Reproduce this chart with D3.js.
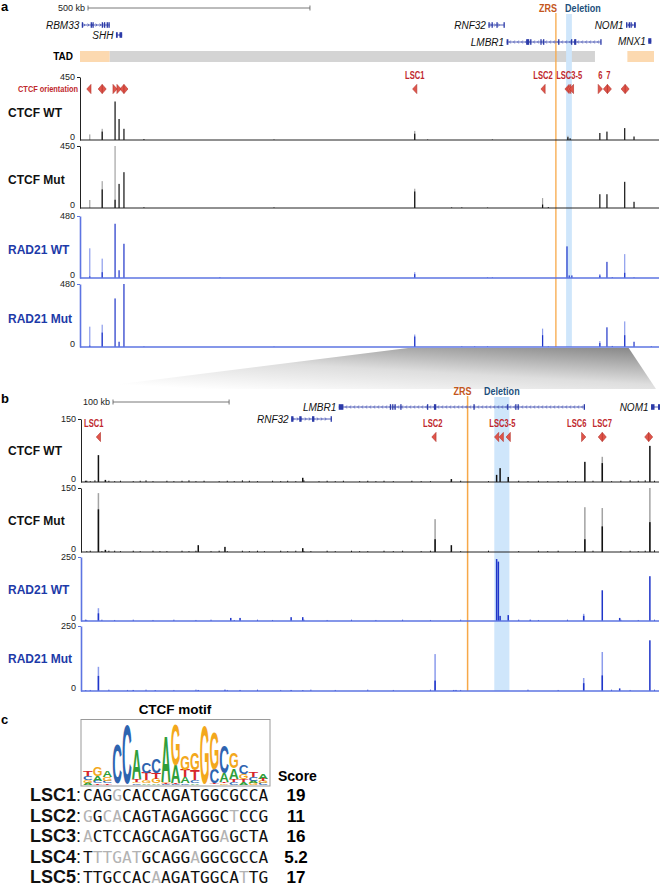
<!DOCTYPE html>
<html><head><meta charset="utf-8">
<script src="https://cdn.jsdelivr.net/npm/d3@7/dist/d3.min.js"></script>
<style>
body{margin:0;background:#fff}
svg{display:block}
svg text{font-family:"Liberation Sans",Arial,Helvetica,sans-serif}
svg text.mono{font-family:"DejaVu Sans Mono",monospace}
</style>
</head><body>
<svg id="fig" width="660" height="887"></svg>
<script>
// ================= DATA =================
const domainA = [0, 1302];          // kb, panel a window
const domainB = [739, 1236];        // kb, panel b window (zoom)
const scaleBarA = 500, scaleBarB = 100;  // kb
const zrsKb = 1072;
const deletionKb = [1095, 1108];
const tadStart = [0, 67, 1233];
const tadEnd   = [67, 1160, 1293];
const tadType  = ["flank", "tad", "flank"];

const geneNames  = ["RBM33", "SHH", "RNF32", "LMBR1", "NOM1", "MNX1"];
const geneStart  = [4, 81, 920, 961, 1230, 1280];
const geneEnd    = [67, 95, 955, 1173, 1252, 1287];
const geneStrand = ["+", "-", "+", "-", "+", "-"];
const geneExons  = [
  [[4,7],[24,26],[28,30],[49,51],[54,56],[60,62],[64,67]],
  [[81,85],[89,95]],
  [[920,922],[927,929],[938,940],[954,955]],
  [[961,965],[1005,1006],[1007,1008],[1009,1010],[1014,1015],[1037,1038],[1043,1045],[1077,1078],[1106,1107],[1113,1114],[1115,1116],[1172,1173]],
  [[1230,1233],[1236,1238],[1240,1242],[1248,1252]],
  [[1280,1287]]
];

// CTCF sites: position (kb), orientation (L = reverse, R = forward, B = both)
const siteKb  = [20, 50, 79, 88, 99, 754, 1043, 1097, 1101, 1107, 1172, 1188, 1228];
const siteDir = ["L","B","R","R","B","L","L","L","L","L","R","B","B"];
const siteLabelsA   = ["LSC1", "LSC2", "LSC3-5", "6", "7"];
const siteLabelKbA  = [754, 1043, 1102, 1172, 1190];
const siteLabelsB   = ["LSC1", "LSC2", "LSC3-5", "LSC6", "LSC7"];
const siteLabelKbB  = [750, 1042, 1102, 1166, 1188];

// ChIP-seq peaks: [kb, max, mean]
const ctcfWtA = [[22,40,0],[50,80,60],[79,275,275],[88,150,150],[99,80,80],[144,6,6],[437,3,3],[754,65,45],[783,3,3],[929,3,3],[1099,30,20],[1104,12,12],[1171,50,50],[1187,60,60],[1227,85,85],[1248,25,25]];
const ctcfMutA = [[22,58,0],[50,195,135],[79,470,60],[88,175,175],[99,260,260],[144,5,5],[437,4,4],[754,140,120],[837,4,4],[860,4,4],[918,3,3],[1042,72,25],[1055,6,6],[1171,100,100],[1187,100,100],[1227,190,190],[1248,45,45]];
const rad21WtA = [[22,230,12],[50,150,45],[79,420,420],[88,60,60],[99,265,265],[315,5,5],[754,45,30],[918,4,4],[929,4,4],[1097,245,245],[1102,20,20],[1108,20,20],[1171,30,20],[1187,125,125],[1199,6,6],[1227,185,40],[1248,5,5]];
const rad21MutA = [[22,155,10],[50,170,110],[79,370,370],[88,40,40],[99,490,490],[144,4,4],[437,3,3],[754,95,80],[860,4,4],[889,4,4],[918,4,4],[1042,140,90],[1055,4,4],[1171,45,30],[1187,150,150],[1199,8,8],[1227,195,90],[1248,40,40],[1287,5,5]];

const ctcfWtB = [[743,3,3],[754,64,64],[760,5,5],[930,10,10],[1058,7,7],[1097,17,17],[1100,33,33],[1107,12,12],[1173,48,48],[1188,60,45],[1229,86,86]];
const ctcfMutB = [[754,138,100],[760,5,5],[840,16,16],[863,12,12],[930,9,9],[1044,77,30],[1058,16,16],[1173,105,30],[1188,103,60],[1229,160,70]];
const rad21WtB = [[743,5,5],[754,50,30],[868,12,12],[876,12,12],[920,15,15],[930,15,15],[1097,242,242],[1098.5,232,232],[1100,20,20],[1107,23,23],[1126,5,5],[1172,28,20],[1188,120,120],[1203,12,12],[1229,175,175]];
const rad21MutB = [[743,3,3],[754,93,58],[784,4,4],[803,3,3],[840,4,4],[863,5,5],[876,4,4],[920,4,4],[930,3,3],[1044,142,40],[1060,4,4],[1062,4,4],[1172,50,30],[1188,150,60],[1203,10,10],[1229,195,195]];

// low background signal in panel b
const bgPosB = [744,747,751,757,763,768,773,779,784,790,795,801,807,813,819,826,832,838,845,851,858,865,871,878,884,891,897,904,911,917,924,931,937,944,951,958,965,972,979,986,993,1000,1008,1016,1024,1032,1040,1050,1058,1066,1083,1090,1116,1124,1133,1141,1150,1158,1165,1180,1196,1204,1212,1219,1225,1233];
const bgCtcfWtB  = [3,2,4,0,3,2,3,0,2,3, 4,2,0,3,2,3,4,2,3,0, 2,3,2,4,3,2,0,3,2,3, 2,4,0,2,3,2,3,0,2,3, 2,3,2,0,3,2,2,0,2,3, 0,2,3,2,3,2,2,3,2,3, 2,3,4,3,4,3];
const bgCtcfMutB = [2,3,0,2,3,3,2,0,3,2, 0,3,2,2,0,3,2,3,0,2, 3,2,0,3,2,3,2,0,3,2, 3,2,2,0,3,2,0,3,2,2, 0,3,2,3,0,2,3,0,2,2, 0,3,2,0,3,2,3,0,2,3, 0,2,3,2,3,4];
const bgRad21WtB = [4,0,0,5,0,4,0,0,5,0, 0,4,0,0,5,0,0,4,0,5, 0,0,4,0,0,5,0,4,0,0, 0,5,0,0,4,0,0,5,0,0, 4,0,0,5,0,0,4,0,0,5, 0,0,5,0,4,0,0,5,0,0, 0,5,0,4,0,5];
const bgRad21MutB = [0,4,0,0,5,0,0,4,0,0, 5,0,0,0,4,0,0,5,0,0, 0,4,0,0,0,5,0,0,4,0, 0,0,5,0,0,4,0,0,0,5, 0,0,4,0,0,0,5,0,0,4, 0,0,0,5,0,0,4,0,0,0, 5,0,4,0,0,5];

const trackNames = ["CTCF WT", "CTCF Mut", "RAD21 WT", "RAD21 Mut"];
const trackKinds = ["ctcf", "ctcf", "rad21", "rad21"];
const trackMaxA = [450, 450, 480, 480];
const trackMaxB = [150, 150, 250, 250];

// Motif logo (bits per base, 19 positions)
const logoA = [0.08,0.15,0.2,0.02,0.02,1.0,0.05,0.05,1.5,0.6,0.2,0.05,0.02,0.02,0.3,0.35,0.1,0.08,0.18];
const logoC = [0.12,0.08,0.08,1.3,1.95,0.05,0.35,0.45,0.03,0.03,0.05,0.1,0.02,0.45,0.9,0.1,0.3,0.12,0.06];
const logoG = [0.08,0.3,0.12,0.02,0.02,0.05,0.1,0.15,0.05,1.35,0.45,0.55,1.9,1.2,0.05,0.5,0.15,0.06,0.06];
const logoT = [0.15,0.05,0.05,0.02,0.02,0.1,0.25,0.2,0.03,0.03,0.25,0.35,0.02,0.05,0.05,0.1,0.1,0.18,0.08];

const motifSites = ["LSC1","LSC2","LSC3","LSC4","LSC5"];
const motifSeqs = ["CAGGCACCAGATGGCGCCA","GGCACAGTAGAGGGCTCCG","ACTCCAGCAGATGGAGCTA","TTTGATGCAGGAGGCGCCA","TTGCCACAAGATGGCATTG"];
const motifMismatch = [[3],[0,2,3,15],[0,14],[1,2,3,4,5,11],[7,16]];
const motifScores = ["19","11","16","5.2","17"];

// ================= DRAWING =================
const svg = d3.select("#fig");
const RED = "#c0282d", SITEFILL = "#e0554a", SITESTROKE = "#b3302a";
const GENE = "#2b3aa8", BLUE = "#1d3aa8";
const ZRSC = "#f7a848", DELC = "#cfe6fb";
const xA = d3.scaleLinear(domainA, [80, 658]);
const xB = d3.scaleLinear(domainB, [81, 658]);

function ntext(g, x, y, str, size, color, sx, anchor, weight, style) {
  return g.append("text")
    .attr("transform", `translate(${x},${y}) scale(${sx},1)`)
    .attr("text-anchor", anchor || "middle")
    .attr("font-size", size).attr("font-weight", weight || "bold")
    .attr("font-style", style || "normal")
    .attr("fill", color).text(str);
}

// --- zoom wedge between a and b ---
const defs = svg.append("defs");
const grad = defs.append("linearGradient").attr("id", "wedge")
  .attr("x1", 1).attr("y1", 0).attr("x2", 0.2).attr("y2", 1);
grad.append("stop").attr("offset", 0).attr("stop-color", "#858585");
grad.append("stop").attr("offset", 0.55).attr("stop-color", "#dedede");
grad.append("stop").attr("offset", 1).attr("stop-color", "#ffffff");
svg.append("path")
  .attr("d", `M${xA(domainB[0])},348L${xA(domainB[1])},348L656,389L81,389Z`)
  .attr("fill", "url(#wedge)");

// --- panel letters ---
svg.append("text").attr("x", 1).attr("y", 11).attr("font-size", 13).attr("font-weight", "bold").text("a");
svg.append("text").attr("x", 1).attr("y", 403).attr("font-size", 13).attr("font-weight", "bold").text("b");
svg.append("text").attr("x", 1).attr("y", 724).attr("font-size", 13).attr("font-weight", "bold").text("c");

function scaleBar(g, x, scale, kb, y, label) {
  const len = scale(scale.domain()[0] + kb) - scale(scale.domain()[0]);
  g.append("line").attr("x1", x).attr("x2", x + len).attr("y1", y).attr("y2", y).attr("stroke", "#555").attr("stroke-width", 0.8);
  [x, x + len].forEach(px => g.append("line").attr("x1", px).attr("x2", px).attr("y1", y - 2.5).attr("y2", y + 2.5).attr("stroke", "#555").attr("stroke-width", 0.8));
  g.append("text").attr("x", x - 3).attr("y", y + 3).attr("text-anchor", "end").attr("font-size", 9).attr("fill", "#222").text(label);
}

function drawGene(g, x, i, y) {
  const s = x(geneStart[i]), e = Math.min(x(geneEnd[i]), 660);
  g.append("line").attr("x1", s).attr("x2", e).attr("y1", y).attr("y2", y).attr("stroke", GENE).attr("stroke-width", 0.8);
  const dir = geneStrand[i] === "-" ? 1 : -1;
  for (let px = s + 3; px < e - 2; px += 4) {
    g.append("path").attr("d", `M${px + 1.1 * dir},${y - 1.5}L${px},${y}L${px + 1.1 * dir},${y + 1.5}`)
      .attr("fill", "none").attr("stroke", GENE).attr("stroke-width", 0.6);
  }
  geneExons[i].forEach(([a, b]) => {
    const xa = x(a), xb = Math.min(x(b), 660);
    g.append("rect").attr("x", xa).attr("y", y - 2.8).attr("width", Math.max(1.3, xb - xa)).attr("height", 5.6).attr("fill", GENE);
  });
  g.append("text").attr("x", s - 2.5).attr("y", y + 3.5).attr("text-anchor", "end")
    .attr("font-size", 10).attr("font-style", "italic").attr("fill", "#111").text(geneNames[i]);
}

function drawSite(g, cx, cy, dir, w, h) {
  let d;
  if (dir === "L") d = `M${cx - w / 2},${cy}L${cx + w / 2},${cy - h}L${cx + w / 2},${cy + h}Z`;
  else if (dir === "R") d = `M${cx + w / 2},${cy}L${cx - w / 2},${cy - h}L${cx - w / 2},${cy + h}Z`;
  else d = `M${cx - w},${cy}L${cx},${cy - h}L${cx + w},${cy}L${cx},${cy + h}Z`;
  g.append("path").attr("d", d).attr("fill", SITEFILL).attr("stroke", SITESTROKE).attr("stroke-width", 0.6);
  if (dir === "B") g.append("line").attr("x1", cx).attr("x2", cx).attr("y1", cy - h).attr("y2", cy + h).attr("stroke", SITESTROKE).attr("stroke-width", 0.7);
}

function drawTrack(g, x, idx, top, base, ymax, data, bgVals, barW, labelDy) {
  const kind = trackKinds[idx];
  const y = d3.scaleLinear([0, ymax], [base, top]).clamp(true);
  const lineColor = kind === "ctcf" ? "#222" : "#5d74e2";
  const light = kind === "ctcf" ? "#a3a3a3" : "#8c9cec";
  const dark = kind === "ctcf" ? "#111" : "#1f35c9";
  const x0 = x.range()[0];
  if (bgVals) bgPosB.forEach((p, k) => {
    const v = bgVals[k];
    if (v > 0) g.append("rect").attr("x", x(p) - 0.5).attr("width", 1).attr("y", y(v)).attr("height", base - y(v)).attr("fill", dark);
  });
  data.forEach(([kb, mx, mn]) => {
    const px = x(kb);
    if (mx > mn) g.append("rect").attr("x", px - barW / 2).attr("width", barW).attr("y", y(mx)).attr("height", base - y(mx)).attr("fill", light);
    if (mn > 0) g.append("rect").attr("x", px - barW / 2).attr("width", barW).attr("y", y(mn)).attr("height", base - y(mn)).attr("fill", dark);
  });
  g.append("line").attr("x1", x0).attr("x2", 659).attr("y1", base).attr("y2", base)
    .attr("stroke", lineColor).attr("stroke-width", kind === "ctcf" ? 1 : 1.6);
  const ax = g.append("g").attr("transform", `translate(${x0},0)`)
    .call(d3.axisLeft(y).tickValues([0, ymax]).tickSize(3).tickSizeOuter(0).tickPadding(2).tickFormat(d3.format("d")));
  ax.select(".domain").attr("stroke", lineColor).attr("stroke-width", kind === "ctcf" ? 1 : 1.6);
  ax.selectAll(".tick line").attr("stroke", lineColor);
  ax.selectAll(".tick").filter(d => d === 0).select("line").remove();
  ax.selectAll(".tick text").attr("font-size", 9).attr("fill", "#222");
  ax.selectAll(".tick text").filter(d => d === 0).attr("y", -3);
  g.append("text").attr("x", 8).attr("y", (top + base) / 2 + labelDy)
    .attr("font-size", 12).attr("font-weight", "bold")
    .attr("fill", kind === "ctcf" ? "#111" : BLUE).text(trackNames[idx]);
}

// ================= PANEL A =================
const A = svg.append("g");
scaleBar(A, 88, xA, scaleBarA, 8, "500 kb");
tadStart.forEach((s, i) => {
  A.append("rect").attr("x", xA(s)).attr("y", 51).attr("width", xA(tadEnd[i]) - xA(s)).attr("height", 11)
    .attr("fill", tadType[i] === "tad" ? "#d4d4d4" : "#fcd9b0");
});
A.append("text").attr("x", 73).attr("y", 60).attr("text-anchor", "end").attr("font-size", 10).attr("font-weight", "bold").text("TAD");
A.append("rect").attr("x", xA(deletionKb[0])).attr("y", 14).attr("width", xA(deletionKb[1]) - xA(deletionKb[0])).attr("height", 333).attr("fill", DELC);
A.append("line").attr("x1", xA(zrsKb)).attr("x2", xA(zrsKb)).attr("y1", 13).attr("y2", 347).attr("stroke", ZRSC).attr("stroke-width", 1.3);
ntext(A, xA(zrsKb) - 8, 12, "ZRS", 10.5, "#c4561c", 0.86);
ntext(A, xA(deletionKb[0]) - 1, 12, "Deletion", 10.5, "#1d4f7c", 0.86, "start");
const geneRowA = [25, 35, 25, 42, 25, 41];
geneNames.forEach((n, i) => drawGene(A, xA, i, geneRowA[i]));
ntext(A, 78, 92, "CTCF orientation", 9.5, RED, 0.78, "end");
siteKb.forEach((kb, i) => drawSite(A, xA(kb), 89, siteDir[i], siteDir[i] === "B" ? 4 : 4.2, 4.6));
siteLabelsA.forEach((l, i) => ntext(A, xA(siteLabelKbA[i]), 79, l, 10, RED, 0.76));
const topsA = [77, 146, 216, 284], basesA = [140, 208, 278, 347];
const dataA = [ctcfWtA, ctcfMutA, rad21WtA, rad21MutA];
const dyA = [8, 7, 6.5, 7];
dataA.forEach((d, i) => drawTrack(A, xA, i, topsA[i], basesA[i], trackMaxA[i], d, null, 1.2, dyA[i]));

// ================= PANEL B =================
const B = svg.append("g");
scaleBar(B, 113, xB, scaleBarB, 402, "100 kb");
B.append("rect").attr("x", xB(deletionKb[0])).attr("y", 397).attr("width", xB(deletionKb[1]) - xB(deletionKb[0])).attr("height", 294).attr("fill", DELC);
B.append("line").attr("x1", xB(zrsKb)).attr("x2", xB(zrsKb)).attr("y1", 396).attr("y2", 691).attr("stroke", ZRSC).attr("stroke-width", 1.5);
ntext(B, xB(zrsKb) - 5, 395, "ZRS", 10.5, "#c4561c", 0.86);
ntext(B, (xB(deletionKb[0]) + xB(deletionKb[1])) / 2, 395, "Deletion", 10.5, "#1d4f7c", 0.86);
const geneRowB = {RNF32: 419, LMBR1: 407, NOM1: 407};
geneNames.forEach((n, i) => { if (geneRowB[n] !== undefined) drawGene(B, xB, i, geneRowB[n]); });
siteKb.forEach((kb, i) => { if (kb >= domainB[0] && kb <= domainB[1]) drawSite(B, xB(kb), 437, siteDir[i], siteDir[i] === "B" ? 4 : 4.2, 4.6); });
siteLabelsB.forEach((l, i) => ntext(B, xB(siteLabelKbB[i]), 427, l, 10, RED, 0.76));
const topsB = [419, 488, 557, 626], basesB = [482, 552, 621, 691];
const dataB = [ctcfWtB, ctcfMutB, rad21WtB, rad21MutB];
const bgB = [bgCtcfWtB, bgCtcfMutB, bgRad21WtB, bgRad21MutB];
dataB.forEach((d, i) => drawTrack(B, xB, i, topsB[i], basesB[i], trackMaxB[i], d, bgB[i], 1.5, 4.5));

// ================= PANEL C =================
const C = svg.append("g");
const logoX = d3.scaleBand(d3.range(19), [83, 268]);
const bits = d3.scaleLinear([0, 2], [0, 62]);
const logoBottom = 785;
const baseColor = {A: "#2f9e3a", C: "#2e64b0", G: "#f3a81c", T: "#d7262b"};
C.append("text").attr("x", 175).attr("y", 714).attr("text-anchor", "middle").attr("font-size", 13.5).attr("font-weight", "bold").text("CTCF motif");
C.append("rect").attr("x", 81).attr("y", 719.5).attr("width", 189).attr("height", 66.5).attr("fill", "none").attr("stroke", "#9a9a9a").attr("stroke-width", 1);
d3.range(19).forEach(k => {
  const stack = [["A", logoA[k]], ["C", logoC[k]], ["G", logoG[k]], ["T", logoT[k]]].sort((a, b) => a[1] - b[1]);
  let yb = logoBottom;
  const fs = 20, cap = 0.72 * fs;
  stack.forEach(([b, v]) => {
    const h = bits(v);
    if (h < 0.8) { yb -= h; return; }
    C.append("text")
      .attr("transform", `translate(${logoX(k)},${yb}) scale(1,${h / cap})`)
      .attr("font-size", fs).attr("font-weight", "bold").attr("fill", baseColor[b])
      .attr("textLength", logoX.bandwidth()).attr("lengthAdjust", "spacingAndGlyphs")
      .text(b);
    yb -= h;
  });
});
C.append("text").attr("x", 278).attr("y", 781).attr("font-size", 14).attr("font-weight", "bold").text("Score");
const rowY = d3.scalePoint(motifSites, [801, 883]);
motifSites.forEach((s, i) => {
  const t = C.append("text").attr("x", 30).attr("y", rowY(s)).attr("font-size", 18).attr("fill", "#111");
  t.append("tspan").attr("font-weight", "bold").text(s);
  t.append("tspan").text(":");
  const q = C.append("text").attr("class", "mono").attr("x", 83).attr("y", rowY(s)).attr("font-size", 16.2)
    .style("font-family", "'DejaVu Sans Mono', monospace");
  motifSeqs[i].split("").forEach((ch, j) => {
    q.append("tspan").attr("fill", motifMismatch[i].includes(j) ? "#b3b3b3" : "#111").text(ch);
  });
  C.append("text").attr("x", 296).attr("y", rowY(s)).attr("text-anchor", "middle").attr("font-size", 17).attr("font-weight", "bold").text(motifScores[i]);
});
</script>
</body></html>
